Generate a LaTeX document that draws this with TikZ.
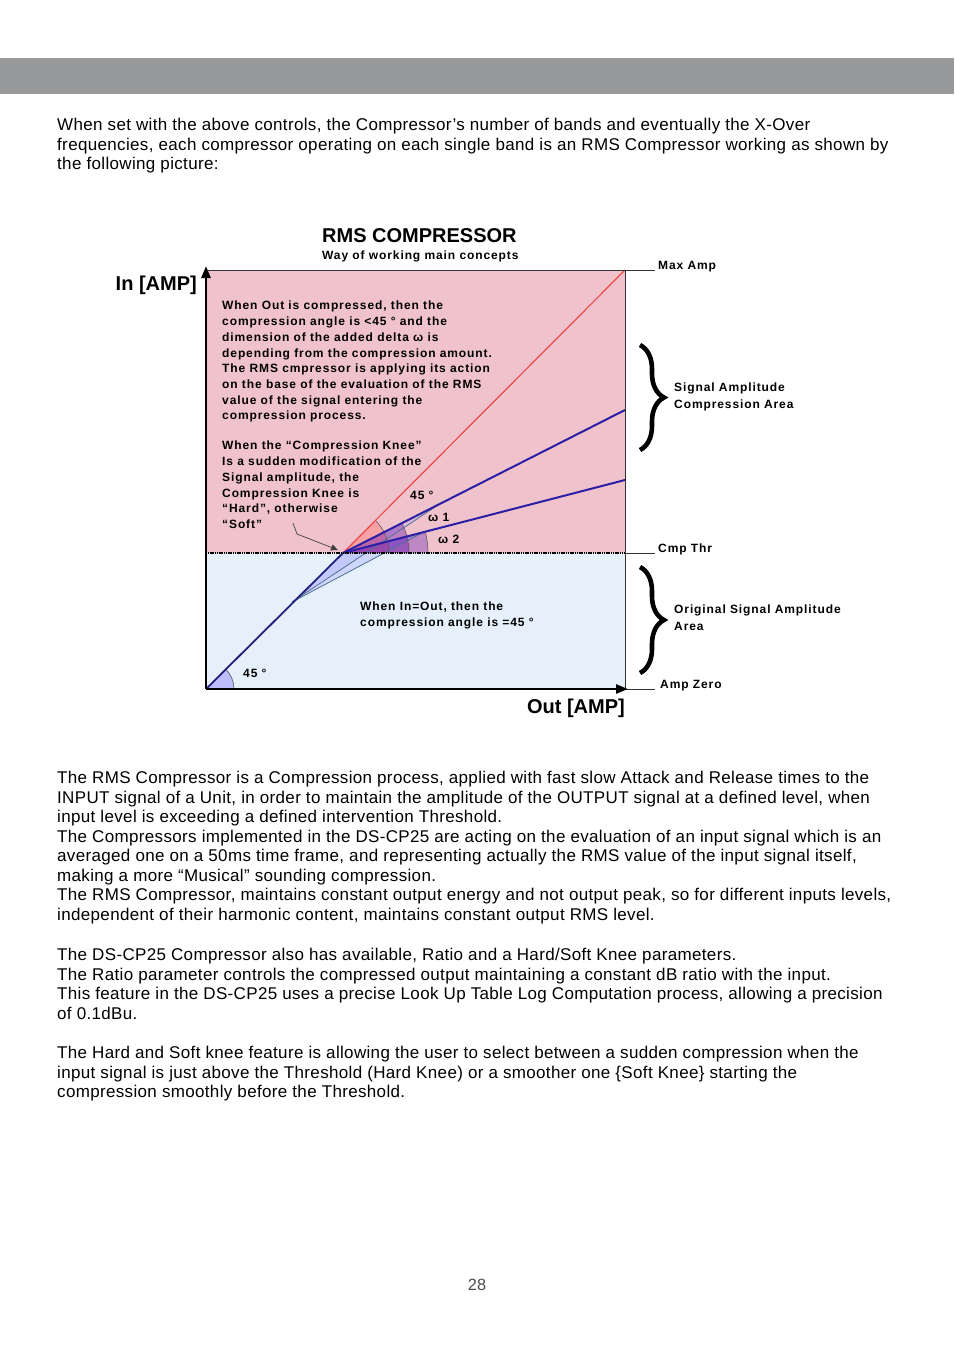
\documentclass[tikz,border=0pt]{standalone}
\usepackage{fontspec}
\setmainfont{Liberation Sans}
\newfontfamily\bodyfont[LetterSpace=2]{Liberation Sans}
\newfontfamily\diagfont[LetterSpace=7.5]{Liberation Sans}
\usetikzlibrary{decorations.pathreplacing,arrows.meta}

\definecolor{barGray}{RGB}{152,153,155}
\definecolor{pinkArea}{RGB}{240,195,204}
\definecolor{blueArea}{RGB}{230,240,251}
\definecolor{redLine}{RGB}{232,72,72}
\definecolor{compLine}{RGB}{44,30,165}
\definecolor{unityLine}{RGB}{34,32,120}
\definecolor{fanLine}{RGB}{80,112,145}

\tikzset{
  body/.style={anchor=north west, inner sep=0pt, align=left, font=\bodyfont\fontsize{17}{19.55}\selectfont},
  note/.style={anchor=north west, inner sep=0pt, align=left, font=\diagfont\bfseries\fontsize{12}{15.7}\selectfont},
  lbl/.style={anchor=base west, inner sep=0pt, font=\diagfont\bfseries\fontsize{12}{15}\selectfont},
  big/.style={inner sep=0pt, font=\bfseries\fontsize{20}{24}\selectfont},
  lead/.style={draw=black!80, line width=0.6pt},
  axis/.style={line width=2.6pt, -{Triangle[length=12pt,width=9pt]}},
  pointer/.style={draw=black!75, line width=0.7pt, -{Triangle[length=7pt,width=6pt]}},
  bracebig/.style={decorate, decoration={brace, amplitude=24pt}, line width=4.6pt},
  arcline/.style={draw=black!65, line width=0.6pt}
}

\begin{document}
\begin{tikzpicture}[x=1pt,y=-1pt]
\useasboundingbox (0,0) rectangle (954,1350);

\fill[barGray] (0,58) rectangle (954,94);

\node[body] (intro) at (57,118) {When set with the above controls, the Compressor’s number of bands and eventually the X-Over\\
frequencies, each compressor operating on each single band is an RMS Compressor working as shown by\\
the following picture:};

\coordinate (O) at (206,689);
\coordinate (K) at (343,553);
\coordinate (M) at (625,270);
\coordinate (E1) at (625,410);
\coordinate (E2) at (625,480);
\coordinate (S) at (292,602);
\coordinate (P1) at (438,505);
\coordinate (P2) at (422,533);

\fill[pinkArea] (206,270) rectangle (625,553);
\fill[blueArea] (206,553) rectangle (625,689);

\fill[blue!35, opacity=0.35] (S) -- (K) -- (P2) -- cycle;
\fill[blue!35, opacity=0.25] (S) -- (K) -- (P1) -- cycle;
\fill[red!45, opacity=0.6] (K) -- ++(46,0) arc (0:-45:46) -- cycle;
\fill[violet!70!blue, opacity=0.35] (K) -- ++(66,0) arc (0:-26.9:66) -- cycle;
\fill[violet!60!blue, opacity=0.3] (K) -- ++(85,0) arc (0:-14.5:85) -- cycle;
\fill[blue!30, opacity=0.8] (O) -- ++(28,0) arc (0:-45:28) -- cycle;

\draw[arcline] ([shift={(46,0)}]K) arc (0:-45:46);
\draw[arcline] ([shift={(66,0)}]K) arc (0:-26.9:66);
\draw[arcline] ([shift={(85,0)}]K) arc (0:-14.5:85);
\draw[arcline] ([shift={(28,0)}]O) arc (0:-45:28);

\draw[fanLine, line width=0.8pt] (S) -- (P1);
\draw[fanLine, line width=0.8pt] (S) -- (P2);
\draw[redLine, line width=1.2pt] (K) -- (M);
\draw[compLine, line width=2pt] (K) -- (E1);
\draw[compLine, line width=2pt] (K) -- (E2);
\draw[unityLine, line width=1.8pt] (O) -- (K);

\draw[lead] (206,270) -- (655,270);
\draw[lead] (625,270) -- (625,689);
\draw[lead] (625,553) -- (655,553);
\draw[lead] (625,689) -- (655,689);
\draw[black, line width=1.8pt, dash pattern=on 1.2pt off 0.6pt] (206,553) -- (625,553);

\draw[axis] (O) -- (206,266);
\draw[axis] (O) -- (628,689);

\draw[bracebig] (640,345) -- (640,450);
\draw[bracebig] (640,567) -- (640,673);

\node[big, anchor=base west] (title) at (322,242) {RMS COMPRESSOR};
\node[lbl] (subtitle) at (322,259) {Way of working main concepts};
\node[big, anchor=base east] (inLbl) at (197,290) {In [AMP]};
\node[big, anchor=base east] (outLbl) at (625,713) {Out [AMP]};

\node[lbl] (maxAmp) at (658,269) {Max Amp};
\node[lbl] (cmpThr) at (658,552) {Cmp Thr};
\node[lbl] (ampZero) at (660,688) {Amp Zero};
\node[note, font=\diagfont\bfseries\fontsize{12}{17}\selectfont] (sigArea) at (674,383) {Signal Amplitude\\Compression Area};
\node[note, font=\diagfont\bfseries\fontsize{12}{17}\selectfont] (origArea) at (674,605) {Original Signal Amplitude\\Area};

\node[note] (outNote) at (222,301) {When Out is compressed, then the\\
compression angle is <45 ° and the\\
dimension of the added delta ω is\\
depending from the compression amount.\\
The RMS cmpressor is applying its action\\
on the base of the evaluation of the RMS\\
value of the signal entering the\\
compression process.};
\node[note] (kneeNote) at (222,441) {When the “Compression Knee”\\
Is a sudden modification of the\\
Signal amplitude, the\\
Compression Knee is\\
“Hard”, otherwise\\
“Soft”};
\node[note] (inOutNote) at (360,602) {When In=Out, then the\\
compression angle is =45 °};

\node[lbl] (ang45) at (410,499) {45 °};
\node[lbl] (angW1) at (428,521) {ω 1};
\node[lbl] (angW2) at (438,543) {ω 2};
\node[lbl] (angO) at (243,677) {45 °};

\coordinate (softTail) at (293,523);
\draw[pointer] (softTail) -- (297,534) -- ([shift={(-5,-3)}]K);

\node[body] (rmsText) at (57,771) {The RMS Compressor is a Compression process, applied with fast slow Attack and Release times to the\\
INPUT signal of a Unit, in order to maintain the amplitude of the OUTPUT signal at a defined level, when\\
input level is exceeding a defined intervention Threshold.\\
The Compressors implemented in the DS-CP25 are acting on the evaluation of an input signal which is an\\
averaged one on a 50ms time frame, and representing actually the RMS value of the input signal itself,\\
making a more “Musical” sounding compression.\\
The RMS Compressor, maintains constant output energy and not output peak, so for different inputs levels,\\
independent of their harmonic content, maintains constant output RMS level.};
\node[body] (ratioText) at (57,948) {The DS-CP25 Compressor also has available, Ratio and a Hard/Soft Knee parameters.\\
The Ratio parameter controls the compressed output maintaining a constant dB ratio with the input.\\
This feature in the DS-CP25 uses a precise Look Up Table Log Computation process, allowing a precision\\
of 0.1dBu.};
\node[body] (kneeText) at (57,1046) {The Hard and Soft knee feature is allowing the user to select between a sudden compression when the\\
input signal is just above the Threshold (Hard Knee) or a smoother one \{Soft Knee\} starting the\\
compression smoothly before the Threshold.};

\node[anchor=base, inner sep=0pt, font=\fontsize{16.3}{19}\selectfont, text=black!70] (pageNo) at (477,1290) {28};
\end{tikzpicture}
\end{document}
